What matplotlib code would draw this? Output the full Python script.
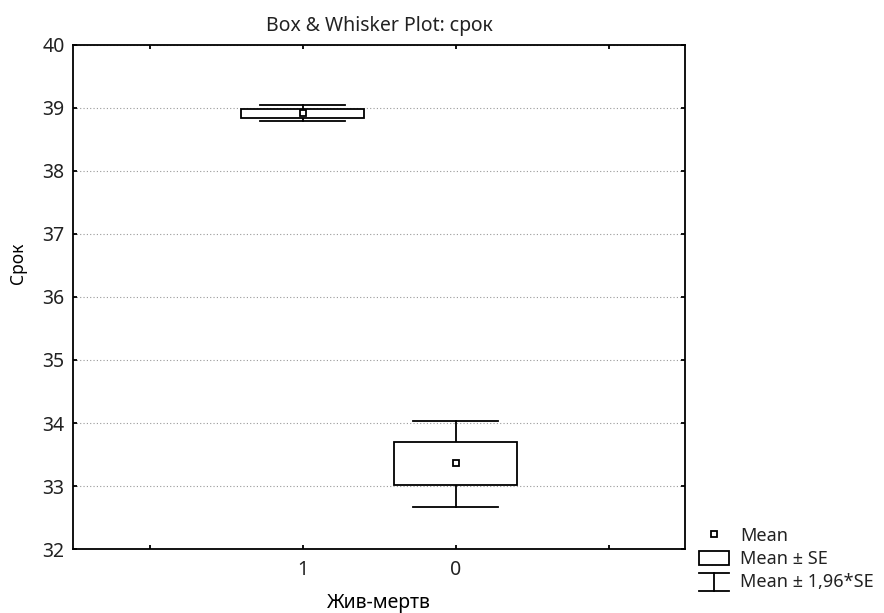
import matplotlib
matplotlib.use('Agg')
import matplotlib.pyplot as plt
from matplotlib.patches import Rectangle
from matplotlib.lines import Line2D
from matplotlib.legend_handler import HandlerBase

# Values
groups = ['1', '0']
means = [38.92, 33.36]
se_low = [38.84, 33.02]
se_high = [38.99, 33.70]
ci_low = [38.79, 32.67]
ci_high = [39.05, 34.03]

plt.rcParams['font.family'] = ['Noto Sans', 'DejaVu Sans']
plt.rcParams['text.color'] = '#222222'


class WhiskerHandler(HandlerBase):
    """Legend symbol: vertical stem with a cap on both ends."""
    def create_artists(self, legend, orig_handle, xdescent, ydescent,
                       width, height, fontsize, trans):
        x0, x1 = -xdescent, -xdescent + width
        xm = (x0 + x1) / 2
        y0, y1 = -ydescent - 2, -ydescent + height + 1
        arts = [
            Line2D([x0, x1], [y1, y1], color='black', lw=1.3),
            Line2D([xm, xm], [y0, y1], color='black', lw=1.3),
            Line2D([x0, x1], [y0, y0], color='black', lw=1.3),
        ]
        for a in arts:
            a.set_transform(trans)
        return arts


fig = plt.figure(figsize=(8.84, 6.13), dpi=100)
ax = fig.add_axes([0.0826, 0.1044, 0.6925, 0.8222])

positions = [1, 2]
box_hw = 0.4
cap_hw = 0.28
for i, pos in enumerate(positions):
    # whisker stems
    ax.plot([pos, pos], [ci_low[i], se_low[i]], color='black', lw=1.3, zorder=3)
    ax.plot([pos, pos], [se_high[i], ci_high[i]], color='black', lw=1.3, zorder=3)
    # caps
    ax.plot([pos - cap_hw, pos + cap_hw], [ci_low[i], ci_low[i]], color='black', lw=1.3, zorder=3)
    ax.plot([pos - cap_hw, pos + cap_hw], [ci_high[i], ci_high[i]], color='black', lw=1.3, zorder=3)
    # SE box
    ax.add_patch(Rectangle((pos - box_hw, se_low[i]), 2 * box_hw, se_high[i] - se_low[i],
                           facecolor='white', edgecolor='black', lw=1.3, zorder=3))
    # mean marker
    ax.plot(pos, means[i], marker='s', markersize=5, markerfacecolor='white',
            markeredgecolor='black', markeredgewidth=1.3, zorder=4)

ax.set_xlim(-0.5, 3.5)
ax.set_ylim(32, 40)
ax.set_xticks([0, 1, 2, 3])
ax.set_xticklabels(['', groups[0], groups[1], ''])
ax.set_yticks(range(32, 41))
ax.yaxis.grid(True, linestyle=(0, (1, 2)), color='#999999', lw=0.8)
ax.set_axisbelow(True)

ax.tick_params(axis='both', direction='in', top=True, right=True,
               length=3, width=1.3, labelsize=14, labelcolor='#222222')
ax.tick_params(axis='x', pad=8)
ax.tick_params(axis='y', pad=6)
for s in ax.spines.values():
    s.set_linewidth(1.3)

ax.set_title('Box & Whisker Plot: срок', fontsize=14, pad=10)
ax.set_ylabel('Срок', fontsize=12.5)
ax.yaxis.set_label_coords(-0.075, 0.567)
ax.set_xlabel('Жив-мертв', fontsize=14, labelpad=9)

handles = [
    Line2D([], [], marker='s', markersize=4, markerfacecolor='white',
           markeredgecolor='black', markeredgewidth=1.3, linestyle='none'),
    Rectangle((0, 0), 1, 1, facecolor='white', edgecolor='black', lw=1.3),
    object(),
]
labels = ['Mean', 'Mean ± SE', 'Mean ± 1,96*SE']
fig.legend(handles, labels, loc='center left', bbox_to_anchor=(0.791, 0.088),
           frameon=False, fontsize=13, handlelength=1.65, handleheight=0.85,
           labelspacing=0.3, handletextpad=0.6, borderpad=0.0, borderaxespad=0.0,
           handler_map={object: WhiskerHandler()})

fig.savefig('out.png', dpi=100)
